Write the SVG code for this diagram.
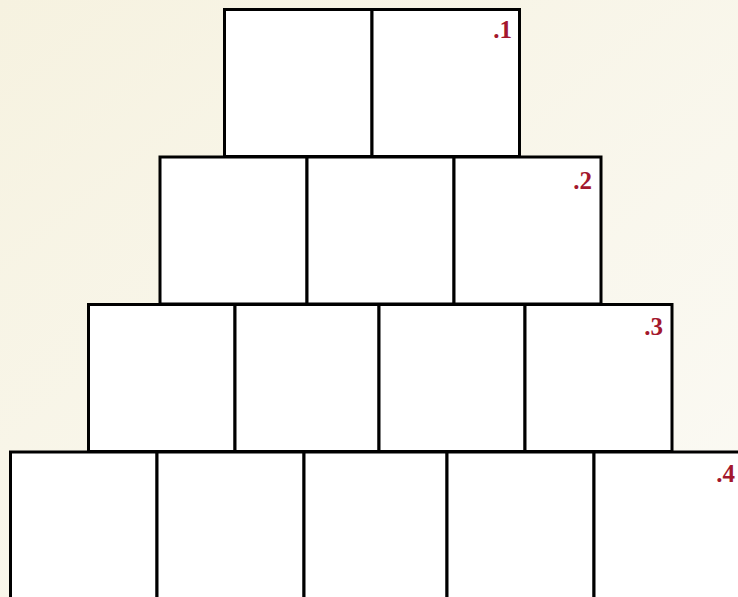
<svg xmlns="http://www.w3.org/2000/svg" width="738" height="597" viewBox="0 0 738 597">
<defs>
<linearGradient id="bg" x1="0" y1="0" x2="1" y2="1">
<stop offset="0" stop-color="#f6f2e0"/>
<stop offset="1" stop-color="#fbfaf5"/>
</linearGradient>
</defs>
<style>
.cell{fill:#ffffff;stroke:#000000;stroke-width:3}
.lbl{font-family:"Liberation Serif",serif;font-weight:bold;font-size:25px;fill:#a3172d;text-anchor:end}
</style>
<rect width="738" height="597" fill="url(#bg)"/>
<g id="row1">
<rect class="cell" x="224.5" y="9.5" width="147.5" height="147"/>
<rect class="cell" x="372" y="9.5" width="147.5" height="147"/>
<text class="lbl" x="512" y="38">.1</text>
</g>
<g id="row2">
<rect class="cell" x="160" y="157" width="147" height="147"/>
<rect class="cell" x="307" y="157" width="147" height="147"/>
<rect class="cell" x="454" y="157" width="147" height="147"/>
<text class="lbl" x="592" y="189">.2</text>
</g>
<g id="row3">
<rect class="cell" x="88.5" y="304.5" width="146.5" height="147"/>
<rect class="cell" x="235" y="304.5" width="144" height="147"/>
<rect class="cell" x="379" y="304.5" width="146" height="147"/>
<rect class="cell" x="525" y="304.5" width="147" height="147"/>
<text class="lbl" x="663" y="335">.3</text>
</g>
<g id="row4">
<rect class="cell" x="10.5" y="452" width="146.5" height="150"/>
<rect class="cell" x="157" y="452" width="147" height="150"/>
<rect class="cell" x="304" y="452" width="143" height="150"/>
<rect class="cell" x="447" y="452" width="147" height="150"/>
<rect class="cell" x="594" y="452" width="147" height="150"/>
<text class="lbl" x="735" y="482">.4</text>
</g>
</svg>
